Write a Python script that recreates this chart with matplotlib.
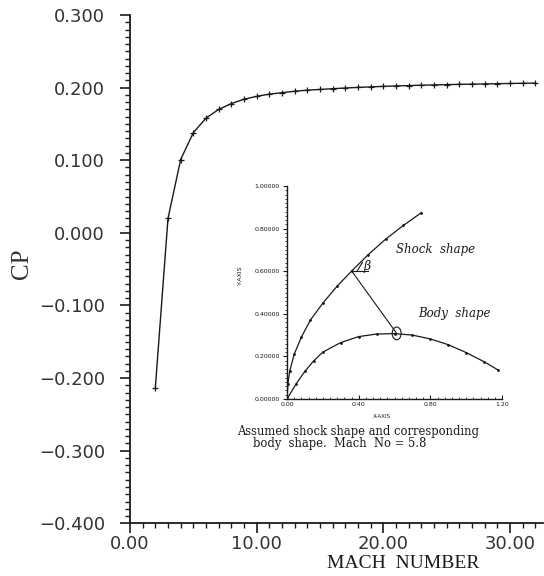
import matplotlib
matplotlib.use("Agg")
import matplotlib.pyplot as plt
from matplotlib.ticker import MultipleLocator, FormatStrFormatter, FuncFormatter
from matplotlib.patches import Ellipse

# ---- main chart data ----
mach = [2, 3, 4, 5, 6, 7, 8, 9, 10, 11, 12, 13, 14, 15, 16, 17, 18, 19, 20,
        21, 22, 23, 24, 25, 26, 27, 28, 29, 30, 31, 32]
cp = [-0.213, 0.020, 0.101, 0.138, 0.158, 0.170, 0.178, 0.184, 0.188, 0.191,
      0.193, 0.195, 0.1965, 0.1975, 0.1985, 0.1995, 0.2003, 0.2010, 0.2017,
      0.2023, 0.2028, 0.2033, 0.2037, 0.2041, 0.2045, 0.2048, 0.2051, 0.2054,
      0.2057, 0.2060, 0.2062]

# ---- inset data ----
shock_x = [0.0, 0.005, 0.015, 0.04, 0.08, 0.13, 0.20, 0.28, 0.36, 0.45, 0.55, 0.65, 0.75]
shock_y = [0.0, 0.07, 0.13, 0.21, 0.29, 0.37, 0.45, 0.53, 0.60, 0.675, 0.75, 0.815, 0.875]
body_x = [0.0, 0.05, 0.10, 0.15, 0.20, 0.30, 0.40, 0.50, 0.60, 0.70, 0.80, 0.90, 1.00, 1.10, 1.18]
body_y = [0.0, 0.07, 0.13, 0.18, 0.22, 0.265, 0.293, 0.305, 0.307, 0.300, 0.282, 0.255, 0.218, 0.175, 0.135]
normal_start = (0.361, 0.601)
normal_end = (0.612, 0.308)

W, H = 544, 576
fig = plt.figure(figsize=(W / 100, H / 100), dpi=100)

def fx(px):
    return px / W

def fy(py):
    return 1 - py / H

ink = "#1a1a1a"

# ---- main axes ----
ax = fig.add_axes([fx(130), fy(523.3), fx(543) - fx(130), fy(15) - fy(523.3)])
ax.plot(mach, cp, color=ink, lw=1.0, marker="+", ms=4, mew=0.9)
ax.set_xlim(0, 32.6)
ax.set_ylim(-0.4, 0.3)
for s in ["top", "right"]:
    ax.spines[s].set_visible(False)
for s in ["left", "bottom"]:
    ax.spines[s].set_linewidth(1.3)
    ax.spines[s].set_color(ink)
ax.xaxis.set_major_locator(MultipleLocator(10))
ax.xaxis.set_minor_locator(MultipleLocator(1))
ax.yaxis.set_major_locator(MultipleLocator(0.1))
ax.yaxis.set_minor_locator(MultipleLocator(0.01))
ax.xaxis.set_major_formatter(FormatStrFormatter("%.2f"))
ax.yaxis.set_major_formatter(FuncFormatter(lambda v, p: ("%.3f" % v).replace("-", "\u2212")))
ax.tick_params(axis="both", which="major", direction="out", length=7, width=1.2,
               labelsize=13, colors=ink, labelcolor="#333333")
ax.tick_params(axis="both", which="minor", direction="out", length=3.5, width=1.0, colors=ink)
ax.tick_params(axis="y", which="major", pad=11)
ax.tick_params(axis="x", which="major", pad=1.5)

fig.text(fx(22), fy(264), "CP", rotation=90, ha="center", va="center",
         fontsize=18, family="Liberation Serif", color="#333333")
fig.text(fx(403), fy(564), "MACH  NUMBER", ha="center", va="center",
         fontsize=14, family="Liberation Serif", color=ink)

# ---- inset axes ----
ins = fig.add_axes([fx(287), fy(399), fx(502) - fx(287), fy(186) - fy(399)])
ins.patch.set_alpha(0)
ins.plot(shock_x, shock_y, color=ink, lw=0.9, marker=".", ms=2)
ins.plot(body_x, body_y, color=ink, lw=0.9, marker=".", ms=2)
ins.plot([normal_start[0], normal_end[0]], [normal_start[1], normal_end[1]],
         color=ink, lw=0.8)
ins.add_patch(Ellipse(normal_end, 0.05, 0.06, fill=False, lw=0.8, color=ink))
ins.plot([normal_start[0], normal_start[0] + 0.09], [normal_start[1], normal_start[1]],
         color=ink, lw=0.8)
ins.plot([normal_start[0] + 0.03, normal_start[0] + 0.06],
         [normal_start[1], normal_start[1] + 0.04], color=ink, lw=0.8)
ins.text(normal_start[0] + 0.065, normal_start[1] + 0.005, "β", fontsize=9,
         family="DejaVu Serif", style="italic", color=ink)
ins.set_xlim(0, 1.2)
ins.set_ylim(0, 1.0)
for s in ["top", "right"]:
    ins.spines[s].set_visible(False)
for s in ["left", "bottom"]:
    ins.spines[s].set_linewidth(1.0)
    ins.spines[s].set_color(ink)
ins.xaxis.set_major_locator(MultipleLocator(0.4))
ins.xaxis.set_minor_locator(MultipleLocator(0.04))
ins.yaxis.set_major_locator(MultipleLocator(0.2))
ins.yaxis.set_minor_locator(MultipleLocator(0.02))
ins.xaxis.set_major_formatter(FormatStrFormatter("%.2f"))
ins.yaxis.set_major_formatter(FormatStrFormatter("%.5f"))
ins.tick_params(axis="both", which="major", length=3, width=0.8, labelsize=4.5,
                colors=ink, pad=2)
ins.tick_params(axis="both", which="minor", length=1.8, width=0.6, colors=ink)
ins.tick_params(axis="x", which="both", direction="in")
ins.tick_params(axis="y", which="both", direction="out")
fig.text(fx(240), fy(275), "Y-AXIS", rotation=90, ha="center", va="center",
         fontsize=4.5, color=ink)
fig.text(fx(382), fy(416), "X-AXIS", ha="center", va="center", fontsize=4, color=ink)

fig.text(fx(396), fy(249), "Shock  shape", ha="left", va="center", fontsize=8.5,
         family="DejaVu Serif", style="italic", color=ink)
fig.text(fx(418), fy(314), "Body  shape", ha="left", va="center", fontsize=8.5,
         family="DejaVu Serif", style="italic", color=ink)

fig.text(fx(237), fy(431), "Assumed shock shape and corresponding", ha="left",
         va="center", fontsize=8.3, family="DejaVu Serif", color=ink)
fig.text(fx(253), fy(444), "body  shape.  Mach  No = 5.8", ha="left",
         va="center", fontsize=8.3, family="DejaVu Serif", color=ink)

fig.savefig("out.png", dpi=100)
